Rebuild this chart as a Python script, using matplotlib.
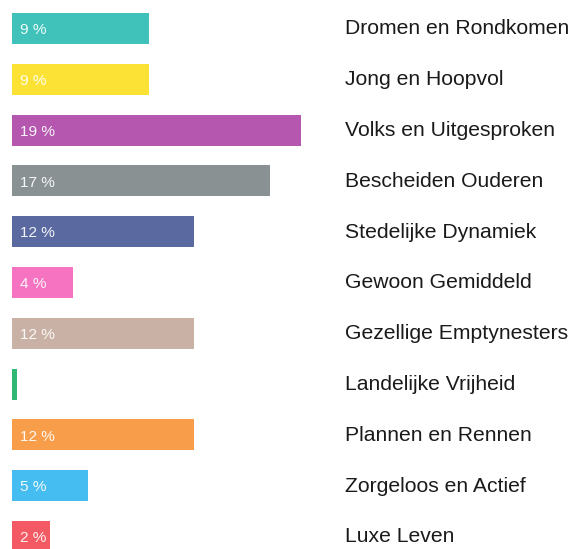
import matplotlib
matplotlib.use("Agg")
import matplotlib.pyplot as plt

categories = ["Dromen en Rondkomen", "Jong en Hoopvol", "Volks en Uitgesproken",
              "Bescheiden Ouderen", "Stedelijke Dynamiek", "Gewoon Gemiddeld",
              "Gezellige Emptynesters", "Landelijke Vrijheid", "Plannen en Rennen",
              "Zorgeloos en Actief", "Luxe Leven"]
values = [9.0, 9.0, 19.0, 17.0, 12.0, 4.0, 12.0, 0.3, 12.0, 5.0, 2.5]
bar_labels = ["9 %", "9 %", "19 %", "17 %", "12 %", "4 %", "12 %", "", "12 %", "5 %", "2 %"]
colors = ["#40c2ba", "#fde236", "#b557ae", "#899192", "#5a6aa1", "#f573c1",
          "#c9b1a5", "#2fb874", "#f89e4a", "#45bdf0", "#f45a64"]

plt.rcParams['font.family'] = ['Liberation Sans', 'DejaVu Sans']

fig = plt.figure(figsize=(5.75, 5.49), dpi=100)
ax = fig.add_axes([0, 0, 1, 1])
ys = list(range(len(categories)))
ax.barh(ys, values, height=0.61, color=colors)

for y, lab, cat in zip(ys, bar_labels, categories):
    if lab:
        ax.text(0.53, y + 0.114, lab, color="white", alpha=0.92, fontsize=11.1,
                va="baseline", ha="left")
    ax.text(21.9, y + 0.115, cat, color="#1a1a1a", fontsize=15.2,
            va="baseline", ha="left")

ax.set_xlim(-0.79, 37.05)
ax.set_ylim(10.246, -0.561)
ax.axis("off")
fig.savefig("out.png", dpi=100)
